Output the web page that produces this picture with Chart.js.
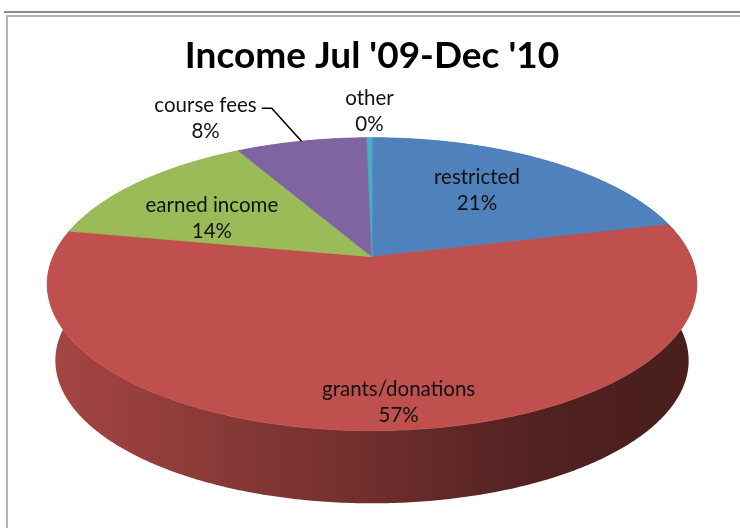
<!DOCTYPE html>
<html lang="en">

<head>
    <meta charset="UTF-8">
    <title>Income Jul '09-Dec '10</title>
    <script src="https://cdn.jsdelivr.net/npm/chart.js@4.4.0/dist/chart.umd.min.js"></script>
    <style>
        body { margin: 0; background: #fff; }
        .moldura { position: relative; width: 740px; height: 528px; overflow: hidden; }
        .linha { position: absolute; }
        .l1 { left: 4px; top: 11px; width: 736px; height: 2px; background: #8c8c8c; }
        .l2 { left: 6px; top: 15px; width: 734px; height: 2px; background: #b4b4b4; }
        .l3 { left: 6px; top: 15px; width: 2px; height: 513px; background: #b4b4b4; }
        .boxGraph { position: absolute; left: 0; top: 0; width: 740px; height: 528px; }
    </style>
</head>

<body>
    <div class="moldura">
        <div class="linha l1"></div>
        <div class="linha l2"></div>
        <div class="linha l3"></div>
        <div class="boxGraph">
            <canvas id="myChart"></canvas>
        </div>
    </div>

<script>
    // dados
    const categorias = ['restricted', 'grants/donations', 'earned income', 'course fees', 'other'];
    const valores = [21.2, 56.8, 13.9, 7.8, 0.3];

    // estilo das fatias
    const cores = ['#4F81BD', '#C0504D', '#9BBB59', '#8064A2', '#4BACC6'];

    // vista 3D (perspectiva do Excel)
    const vista = { A: 319, B: 141.3, p: 0.1877, profundidade: 77, encolhe: 0.975 };

    // rótulos: deslocamento a partir do ponto da fatia
    const raioRotulo = [0.62, 0.62, 0.62, 1, 1];
    const deslocRotulo = [[-7, -3], [21, 47], [-10, 10], [-96, -23], [0, -26]];
    const linhaGuia = [false, false, false, true, false];

    function projetar(cx, cy, A, B, ang, f) {
        const u = f * Math.cos(ang);
        const v = -f * Math.sin(ang);
        const w = 1 + vista.p * v;
        return [cx + A * u / w, cy - B * v / w];
    }

    function escurecer(hex, k) {
        const n = parseInt(hex.slice(1), 16);
        const r = Math.round(((n >> 16) & 255) * k);
        const g = Math.round(((n >> 8) & 255) * k);
        const b = Math.round((n & 255) * k);
        return `rgb(${r},${g},${b})`;
    }

    function pontosArco(cx, cy, A, B, ini, fim, f) {
        const passos = Math.max(2, Math.ceil((fim - ini) / 0.01));
        const pts = [];
        for (let i = 0; i <= passos; i++) {
            pts.push(projetar(cx, cy, A, B, ini + (fim - ini) * i / passos, f));
        }
        return pts;
    }

    const pizza3d = {
        id: 'pizza3d',
        beforeDatasetsDraw(chart) {
            const ctx = chart.ctx;
            const arcos = chart.getDatasetMeta(0).data;
            const cx = arcos[0].x, cy = arcos[0].y;
            const A = vista.A, B = vista.B;
            const cyB = cy + vista.profundidade;
            const Ab = A * vista.encolhe, Bb = B * vista.encolhe;

            ctx.save();
            // lateral
            arcos.forEach((arco, i) => {
                const topo = pontosArco(cx, cy, A, B, arco.startAngle, arco.endAngle, 1);
                const base = pontosArco(cx, cyB, Ab, Bb, arco.startAngle, arco.endAngle, 1).reverse();
                const grad = ctx.createLinearGradient(cx - A, 0, cx + A, 0);
                grad.addColorStop(0, escurecer(cores[i], 0.86));
                grad.addColorStop(0.5, escurecer(cores[i], 0.58));
                grad.addColorStop(0.78, escurecer(cores[i], 0.41));
                grad.addColorStop(1, escurecer(cores[i], 0.38));
                ctx.beginPath();
                topo.concat(base).forEach((pt, j) => j ? ctx.lineTo(pt[0], pt[1]) : ctx.moveTo(pt[0], pt[1]));
                ctx.closePath();
                ctx.fillStyle = grad;
                ctx.fill();
            });
            // topo
            arcos.forEach((arco, i) => {
                const topo = pontosArco(cx, cy, A, B, arco.startAngle, arco.endAngle, 1);
                ctx.beginPath();
                ctx.moveTo(cx, cy);
                topo.forEach(pt => ctx.lineTo(pt[0], pt[1]));
                ctx.closePath();
                ctx.fillStyle = cores[i];
                ctx.strokeStyle = cores[i];
                ctx.lineWidth = 0.8;
                ctx.fill();
                ctx.stroke();
            });
            ctx.restore();
            return false;
        },
        afterDraw(chart) {
            const ctx = chart.ctx;
            const arcos = chart.getDatasetMeta(0).data;
            const cx = arcos[0].x, cy = arcos[0].y;
            const total = valores.reduce((a, b) => a + b, 0);
            ctx.save();
            ctx.font = '20.5px Lato';
            ctx.fillStyle = '#111';
            ctx.textAlign = 'center';
            ctx.textBaseline = 'middle';
            arcos.forEach((arco, i) => {
                const meio = (arco.startAngle + arco.endAngle) / 2;
                const borda = projetar(cx, cy, vista.A, vista.B, meio, raioRotulo[i]);
                const x = borda[0] + deslocRotulo[i][0];
                const y = borda[1] + deslocRotulo[i][1];
                const pct = Math.round(valores[i] / total * 100) + '%';
                ctx.fillText(categorias[i], x, y - 13);
                ctx.fillText(pct, x, y + 13);
                if (linhaGuia[i]) {
                    const fimTexto = x + ctx.measureText(categorias[i]).width / 2;
                    ctx.beginPath();
                    ctx.moveTo(fimTexto + 5, y - 10);
                    ctx.lineTo(fimTexto + 15, y - 10);
                    ctx.lineTo(borda[0], borda[1]);
                    ctx.strokeStyle = '#000';
                    ctx.lineWidth = 1.6;
                    ctx.stroke();
                }
            });
            ctx.restore();
        }
    };

    const dados = {
        labels: categorias,
        datasets: [{
            data: valores,
            backgroundColor: cores,
            borderWidth: 0
        }]
    };

    const config = {
        type: 'pie',
        data: dados,
        options: {
            responsive: true,
            maintainAspectRatio: false,
            animation: false,
            layout: { padding: { left: 4, right: 0, top: 0, bottom: 95 } },
            plugins: {
                legend: { display: false },
                tooltip: { enabled: false },
                title: {
                    display: true,
                    text: "Income Jul '09-Dec '10",
                    color: '#000',
                    font: { family: 'Lato', size: 37, weight: 'bold', lineHeight: 1.2 },
                    padding: { top: 34, bottom: 2 }
                }
            }
        },
        plugins: [pizza3d]
    };

    let myChart = new Chart(document.getElementById('myChart'), config);
</script>
</body>

</html>
